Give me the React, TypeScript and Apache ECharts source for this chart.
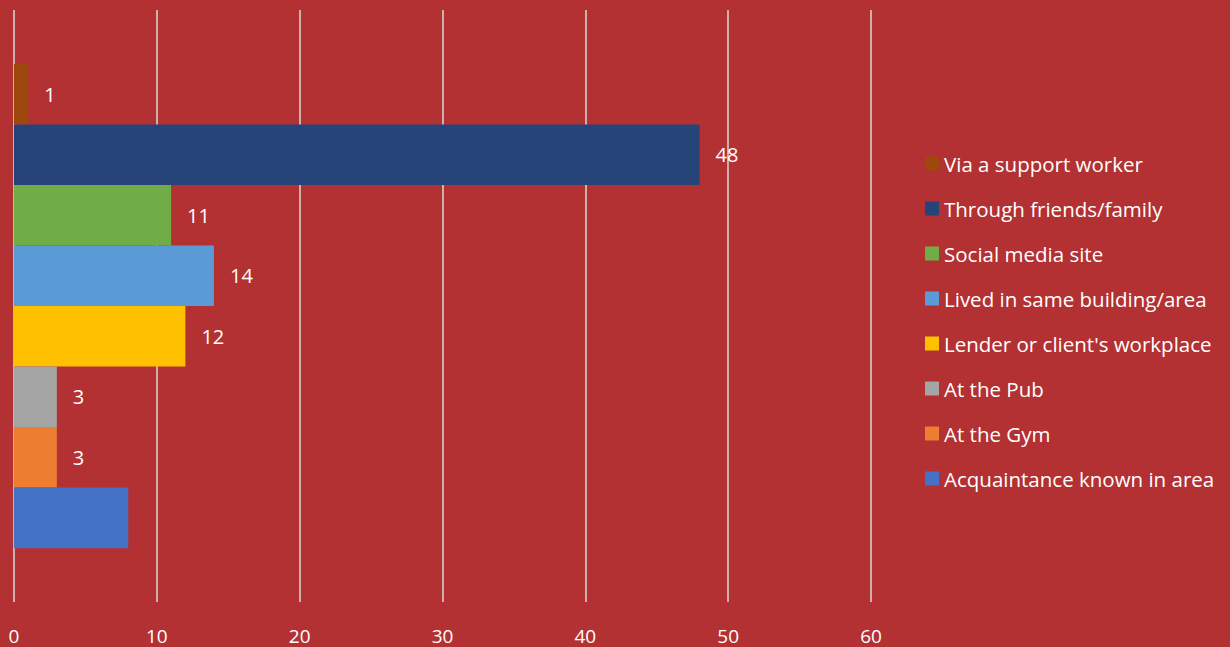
import React, { useEffect, useRef } from "react";
import * as echarts from "echarts";

const seriesNames = [
  "Via a support worker",
  "Through friends/family",
  "Social media site",
  "Lived in same building/area",
  "Lender or client's workplace",
  "At the Pub",
  "At the Gym",
  "Acquaintance known in area",
];
const seriesValues = [1, 48, 11, 14, 12, 3, 3, 8];
const showLabel = [true, true, true, true, true, true, true, false];
const seriesColors = [
  "#9E480E",
  "#264478",
  "#70AD47",
  "#5B9BD5",
  "#FFC000",
  "#A5A5A5",
  "#ED7D31",
  "#4472C4",
];
const categories = ["Total"];

export default function App() {
  const ref = useRef<HTMLDivElement>(null);
  useEffect(() => {
    if (!ref.current) return;
    const chart = echarts.init(ref.current, undefined, { renderer: "svg" });
    const font = "'Open Sans', sans-serif";
    chart.setOption({
      animation: false,
      backgroundColor: "#B33133",
      grid: { left: 14, right: 359, top: 10, bottom: 45, containLabel: false },
      legend: {
        orient: "vertical",
        left: 920,
        top: 148,
        itemWidth: 14,
        itemHeight: 14,
        itemGap: 24,
        icon: "rect",
        data: seriesNames,
        textStyle: {
          color: "#FFFFFF",
          fontSize: 20.5,
          lineHeight: 21,
          fontFamily: font,
        },
      },
      xAxis: {
        type: "value",
        min: 0,
        max: 60,
        interval: 10,
        axisLine: { show: false },
        axisTick: { show: false },
        axisLabel: { color: "#FFFFFF", fontSize: 19, fontFamily: font, margin: 24 },
        splitLine: { show: true, lineStyle: { color: "#D9D9D9", width: 1.5 } },
      },
      yAxis: {
        type: "category",
        data: categories,
        inverse: true,
        axisLine: { show: false },
        axisTick: { show: false },
        axisLabel: { show: false },
        splitLine: { show: false },
      },
      series: seriesNames.map((name, i) => ({
        name,
        type: "bar",
        data: [seriesValues[i]],
        barGap: "0%",
        barCategoryGap: "18.2%",
        itemStyle: { color: seriesColors[i] },
        label: {
          show: showLabel[i],
          position: "right",
          distance: 16,
          color: "#FFFFFF",
          fontSize: 20,
          fontFamily: font,
        },
      })),
    });
    return () => chart.dispose();
  }, []);
  return (
    <div
      ref={ref}
      style={{ position: "absolute", left: 0, top: 0, width: 1230, height: 647 }}
    />
  );
}
